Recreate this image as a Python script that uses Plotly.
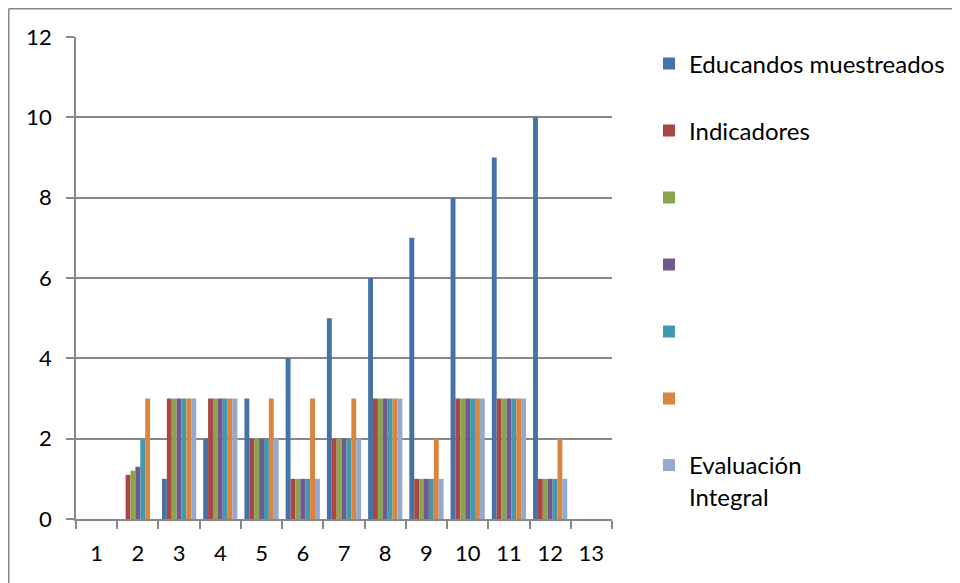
import plotly.graph_objects as go

categories = ["1", "2", "3", "4", "5", "6", "7", "8", "9", "10", "11", "12", "13"]
educandos = [0, 0, 1, 2, 3, 4, 5, 6, 7, 8, 9, 10, 0]
indicadores = [0, 1.1, 3, 3, 2, 1, 2, 3, 1, 3, 3, 1, 0]
serie3 = [0, 1.2, 3, 3, 2, 1, 2, 3, 1, 3, 3, 1, 0]
serie4 = [0, 1.3, 3, 3, 2, 1, 2, 3, 1, 3, 3, 1, 0]
serie5 = [0, 2, 3, 3, 2, 1, 2, 3, 1, 3, 3, 1, 0]
serie6 = [0, 3, 3, 3, 3, 3, 3, 3, 2, 3, 3, 2, 0]
evaluacion = [0, 0, 3, 3, 2, 1, 2, 3, 1, 3, 3, 1, 0]

series = [
    ("Educandos muestreados", educandos, "#4572A7"),
    ("Indicadores", indicadores, "#AA4643"),
    (" ", serie3, "#89A54E"),
    ("  ", serie4, "#71588F"),
    ("   ", serie5, "#4198AF"),
    ("    ", serie6, "#DB843D"),
    ("Evaluación<br>Integral", evaluacion, "#93A9CF"),
]

FONT = "Lato, 'Open Sans', sans-serif"
W, H = 952, 575          # page has an 8px body margin
PW, PH = 536, 482        # plot area size
ML, MT = 68, 29
legend_centers = [56, 123, 190, 257, 324, 391, 458]   # figure coords

fig = go.Figure()
layout_legends = {}
for i, (name, vals, color) in enumerate(series):
    lid = "legend" if i == 0 else f"legend{i + 1}"
    fig.add_trace(go.Bar(
        x=categories, y=vals, name=name,
        marker=dict(color=color, line=dict(width=0)),
        legend=lid,
    ))
    leg = dict(
        xref="container", yref="container",
        x=641 / W, xanchor="left",
        font=dict(family=FONT, size=24, color="black"),
        bgcolor="rgba(0,0,0,0)", itemsizing="constant",
    )
    if i == len(series) - 1:
        leg.update(y=1 - (legend_centers[i] - 23) / H, yanchor="top", valign="top")
    else:
        leg.update(y=1 - legend_centers[i] / H, yanchor="middle")
    layout_legends[lid] = leg

fig.update_layout(
    width=W, height=H,
    margin=dict(l=ML, r=W - ML - PW, t=MT, b=H - MT - PH, autoexpand=False),
    paper_bgcolor="white", plot_bgcolor="white",
    barmode="group", bargap=0.17, bargroupgap=0,
    font=dict(family=FONT, size=22, color="black"),
    showlegend=True,
    xaxis=dict(
        type="category", tickson="boundaries", ticks="outside", ticklen=8,
        tickcolor="#888888", tickwidth=1.5,
        showline=True, linecolor="#888888", linewidth=1.5,
        showgrid=False, ticklabelstandoff=14,
        tickfont=dict(family=FONT, size=22),
    ),
    yaxis=dict(
        range=[0, 12], dtick=2, ticks="outside", ticklen=8,
        tickcolor="#888888", tickwidth=1.5,
        showline=True, linecolor="#888888", linewidth=1.5,
        showgrid=True, gridcolor="#888888", gridwidth=1.5,
        zeroline=False, ticklabelstandoff=10,
        tickfont=dict(family=FONT, size=22),
    ),
    shapes=[
        dict(type="line", xref="paper", yref="paper",
             x0=(0.75 - ML) / PW, x1=(W - ML) / PW,
             y0=1 + (MT - 0.75) / PH, y1=1 + (MT - 0.75) / PH,
             line=dict(color="#888888", width=1.5)),
        dict(type="line", xref="paper", yref="paper",
             x0=(0.75 - ML) / PW, x1=(0.75 - ML) / PW,
             y0=1 + (MT - 0.75) / PH, y1=-(H - MT - PH) / PH,
             line=dict(color="#888888", width=1.5)),
    ],
    **layout_legends,
)

fig.write_html("out.html")
